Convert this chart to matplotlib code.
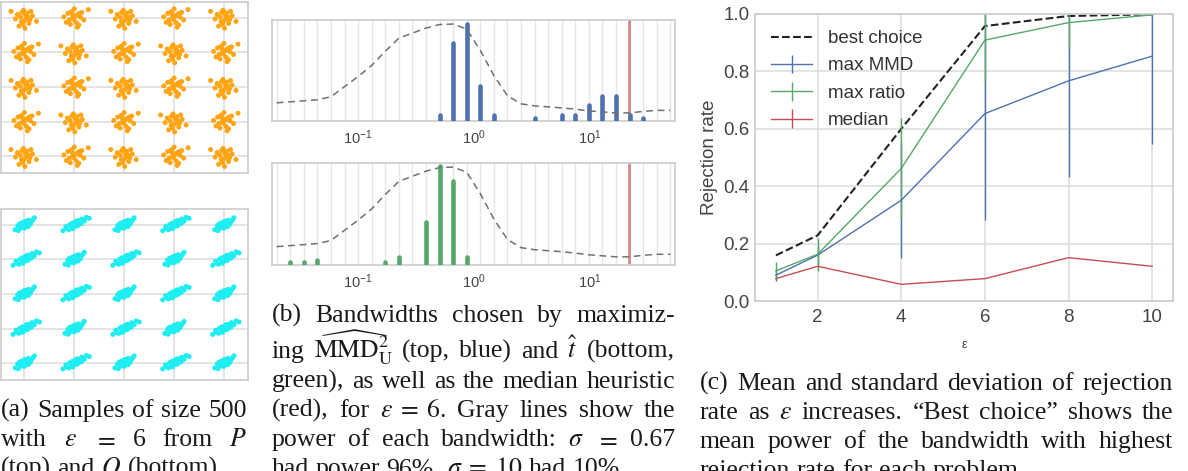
import numpy as np
import matplotlib
matplotlib.use('Agg')
import matplotlib.pyplot as plt
from matplotlib.ticker import NullLocator

W, H = 1188, 471

plt.rcParams['font.family'] = ['Liberation Sans', 'DejaVu Sans']
plt.rcParams['mathtext.fontset'] = 'stix'

# ---- panel (a): samples, 5x5 grid of blobs, 20 points per blob ----
GRID = [0, 1, 2, 3, 4]
P_OFF_A = [(0.02, 0.08), (-0.08, 0.02), (0.11, -0.05), (-0.03, -0.19), (0.05, 0.14),
           (-0.14, 0.10), (0.16, 0.06), (0.00, -0.08), (-0.06, -0.11), (0.09, -0.16),
           (-0.02, 0.22), (0.13, 0.19), (-0.11, -0.24), (0.04, -0.03), (-0.18, -0.03),
           (0.24, -0.10), (0.07, 0.03), (-0.05, 0.16), (0.01, -0.30), (-0.27, 0.19)]
P_OFF_B = [(-0.03, 0.03), (0.07, 0.10), (-0.10, -0.06), (0.04, -0.14), (0.12, 0.02),
           (-0.06, 0.18), (0.00, 0.26), (-0.13, 0.13), (0.09, -0.21), (-0.01, -0.05),
           (0.15, 0.16), (-0.08, -0.19), (0.03, 0.06), (0.19, -0.06), (-0.16, -0.13),
           (0.06, -0.27), (-0.04, 0.11), (0.10, 0.13), (-0.21, 0.03), (0.28, 0.24)]
Q_OFF_A = [(-0.187, -0.139), (-0.122, -0.165), (-0.134, -0.026), (-0.072, -0.090), (-0.073, 0.030),
           (-0.006, -0.096), (-0.022, -0.004), (-0.052, 0.056), (0.028, -0.054), (0.000, 0.094),
           (0.066, -0.016), (0.064, 0.074), (0.119, 0.023), (0.078, 0.136), (0.148, 0.108),
           (0.171, 0.157), (0.199, 0.207), (-0.099, 0.027), (0.076, -0.046), (0.024, 0.104)]
Q_OFF_B = [(-0.23, -0.17), (-0.16, -0.11), (-0.11, -0.14), (-0.09, 0.01), (-0.05, -0.09),
           (-0.04, 0.05), (0.00, -0.05), (0.02, 0.06), (0.06, -0.03), (0.03, 0.10),
           (0.09, 0.01), (0.10, 0.12), (0.14, 0.04), (0.15, 0.17), (0.20, 0.11),
           (0.24, 0.22), (-0.17, -0.05), (0.06, 0.12), (-0.03, -0.11), (0.30, 0.19)]

# ---- panel (b): bandwidth grid, power of each bandwidth, chosen counts ----
SIGMAS = [0.01995, 0.02614, 0.03423, 0.04484, 0.05873, 0.07693, 0.1008, 0.1320, 0.1729, 0.2265,
          0.2967, 0.3886, 0.5090, 0.6668, 0.8735, 1.1444, 1.4993, 1.9644, 2.573, 3.371,
          4.415, 5.783, 7.576, 9.921, 12.998, 17.028, 22.30, 29.22, 38.26, 50.12]
POWER = [0.18, 0.19, 0.20, 0.21, 0.24, 0.34, 0.44, 0.55, 0.69, 0.82,
         0.87, 0.92, 0.955, 0.96, 0.91, 0.70, 0.45, 0.25, 0.17, 0.15,
         0.14, 0.13, 0.117, 0.10, 0.09, 0.08, 0.08, 0.095, 0.105, 0.105]
MMD_IDX = [12, 13, 14, 15, 16, 19, 21, 22, 23, 24, 25, 26, 27]
MMD_COUNTS = [2, 25, 31, 11, 2, 1, 2, 2, 5, 8, 8, 2, 1]
RATIO_IDX = [1, 2, 3, 8, 9, 11, 12, 13, 14]
RATIO_COUNTS = [1, 1, 2, 1, 3, 17, 39, 33, 3]
MEDIAN_SIGMA = 22.1

# ---- panel (c): rejection rate vs epsilon ----
EPS = [1, 2, 4, 6, 8, 10]
BEST = [0.159, 0.229, 0.600, 0.958, 0.993, 0.999]
MMD_MEAN = [0.090, 0.160, 0.351, 0.653, 0.767, 0.853]
MMD_STD = [0.020, 0.030, 0.200, 0.370, 0.335, 0.306]
RATIO_MEAN = [0.105, 0.163, 0.462, 0.909, 0.970, 0.997]
RATIO_STD = [0.030, 0.058, 0.176, 0.145, 0.090, 0.005]
MED_MEAN = [0.078, 0.121, 0.058, 0.078, 0.151, 0.121]
MED_STD = [0.0, 0.0, 0.0, 0.0, 0.0, 0.0]

CAP_A = ["(a) Samples of size 500",
         "with $\\varepsilon$ $=$ 6 from $P$",
         "(top) and $Q$ (bottom)."]
CAP_B = ["(b) Bandwidths chosen by maximiz-",
         "ing $\\widehat{\\mathrm{MMD}}^2_\\mathrm{U}$ (top, blue) and $\\hat{t}$ (bottom,",
         "green), as well as the median heuristic",
         "(red), for $\\varepsilon\\;=\\;6$. Gray lines show the",
         "power of each bandwidth: $\\sigma$ $=$ 0.67",
         "had power 96%, $\\sigma\\;=\\;10$ had 10%."]
CAP_C = ["(c) Mean and standard deviation of rejection",
         "rate as $\\varepsilon$ increases. \u201cBest choice\u201d shows the",
         "mean power of the bandwidth with highest",
         "rejection rate for each problem."]

BLUE, GREEN, RED = '#4C72B0', '#55A868', '#C44E52'
SPINE = '#cccccc'
GRIDC = '#dcdcdc'


def px_box(x0, y0, x1, y1):
    return [x0 / W, 1 - y1 / H, (x1 - x0) / W, (y1 - y0) / H]


def style_spines(ax):
    for sp in ax.spines.values():
        sp.set_color(SPINE)
        sp.set_linewidth(1.2)


fig = plt.figure(figsize=(W / 100, H / 100), dpi=100)

# (a)
for box, offa, offb, col in [(px_box(0.5, 2, 248, 173), P_OFF_A, P_OFF_B, '#FFA514'),
                             (px_box(0.5, 209, 248, 380), Q_OFF_A, Q_OFF_B, '#1EEEF2')]:
    ax = fig.add_axes(box)
    xs, ys = [], []
    for i, cx in enumerate(GRID):
        for j, cy in enumerate(GRID):
            off = offa if (i + j) % 2 == 0 else offb
            for dx, dy in off:
                xs.append(cx + dx)
                ys.append(cy + dy)
    ax.scatter(xs, ys, s=13, color=col, edgecolors='none', zorder=3)
    ax.set_xlim(-0.48, 4.48)
    ax.set_ylim(-0.49, 4.46)
    ax.set_xticks(GRID)
    ax.set_yticks(GRID)
    ax.tick_params(length=0, labelbottom=False, labelleft=False)
    ax.grid(True, color=GRIDC, lw=1.1)
    ax.set_axisbelow(True)
    style_spines(ax)

# (b)
for box, idx, counts, col, ytop in [(px_box(272, 20, 675, 121), MMD_IDX, MMD_COUNTS, BLUE, 32.2),
                                    (px_box(272, 163, 675, 265), RATIO_IDX, RATIO_COUNTS, GREEN, 40.0)]:
    ax = fig.add_axes(box)
    for s in SIGMAS:
        ax.axvline(s, color='#e6e6e6', lw=1, zorder=0)
    ax.axvline(MEDIAN_SIGMA, color=RED, alpha=0.65, lw=2, zorder=1)
    ax.vlines([SIGMAS[k] for k in idx], 0, counts, colors=col, lw=3.3,
              capstyle='round', zorder=3)
    ax.set_xscale('log')
    ax.set_xlim(10 ** -1.74, 10 ** 1.74)
    ax.set_ylim(0, ytop)
    ax.set_yticks([])
    ax.set_xticks([0.1, 1, 10])
    ax.set_xticklabels(['$\\mathregular{10^{-1}}$', '$\\mathregular{10^{0}}$',
                        '$\\mathregular{10^{1}}$'])
    ax.xaxis.set_minor_locator(NullLocator())
    ax.tick_params(axis='x', length=0, pad=5, labelsize=10.5, labelcolor='#444444')
    style_spines(ax)
    tw = ax.twinx()
    tw.plot(SIGMAS, POWER, ls=(0, (4.5, 3)), color='#707070', lw=1.1)
    tw.set_ylim(0, 1)
    tw.set_yticks([])
    for sp in tw.spines.values():
        sp.set_visible(False)

# (c)
ax = fig.add_axes(px_box(755, 14, 1173, 301))
ax.plot(EPS, BEST, ls='--', color='#222222', lw=1.5, label='best choice')
ax.errorbar(EPS, MMD_MEAN, yerr=MMD_STD, color=BLUE, lw=1.0, elinewidth=1.0,
            capsize=0, label='max MMD')
ax.errorbar(EPS, RATIO_MEAN, yerr=RATIO_STD, color=GREEN, lw=1.0, elinewidth=1.0,
            capsize=0, label='max ratio')
ax.errorbar(EPS, MED_MEAN, yerr=MED_STD, color=RED, lw=1.0, elinewidth=1.0,
            capsize=0, label='median')
ax.set_xlim(0.5, 10.5)
ax.set_ylim(0, 1)
ax.set_xticks([2, 4, 6, 8, 10])
ax.set_yticks([0.0, 0.2, 0.4, 0.6, 0.8, 1.0])
ax.set_yticklabels(['0.0', '0.2', '0.4', '0.6', '0.8', '1.0'])
ax.tick_params(length=0, labelsize=13.5, labelcolor='#444444')
ax.tick_params(axis='x', pad=6)
ax.tick_params(axis='y', pad=4)
ax.grid(True, color=GRIDC, lw=1.1)
ax.set_axisbelow(True)
style_spines(ax)
ax.set_ylabel('Rejection rate', fontsize=13.5, color='#444444', labelpad=4)
ax.set_xlabel('\u03b5', fontsize=9, color='#444444', labelpad=9)
ax.legend(loc='upper left', frameon=False, fontsize=13.5, handlelength=2.2,
          handletextpad=0.85, labelspacing=0.55, borderaxespad=0.45,
          labelcolor='#333333')

# captions, justified like the paper
renderer = fig.canvas.get_renderer()
CAP_SIZE = 18.5


def caption(lines, x0, x1, baselines):
    for n, (line, y) in enumerate(zip(lines, baselines)):
        toks = line.split(' ')
        ts = [fig.text(0, 1 - y / H, t, fontsize=CAP_SIZE, family='Liberation Serif',
                       va='baseline', ha='left', color='#1a1a1a') for t in toks]
        widths = [t.get_window_extent(renderer).width for t in ts]
        if n < len(lines) - 1 and len(ts) > 1:
            gap = (x1 - x0 - sum(widths)) / (len(ts) - 1)
        else:
            gap = CAP_SIZE * 100 / 72 * 0.25
        x = x0
        for t, w in zip(ts, widths):
            t.set_x(x / W)
            x += w + gap


caption(CAP_A, 1, 247, [417, 446, 475])
caption(CAP_B, 272, 675, [322, 358, 388, 417, 446, 475])
caption(CAP_C, 700, 1173, [390, 419, 448, 477])

fig.savefig('out.png', dpi=100)
